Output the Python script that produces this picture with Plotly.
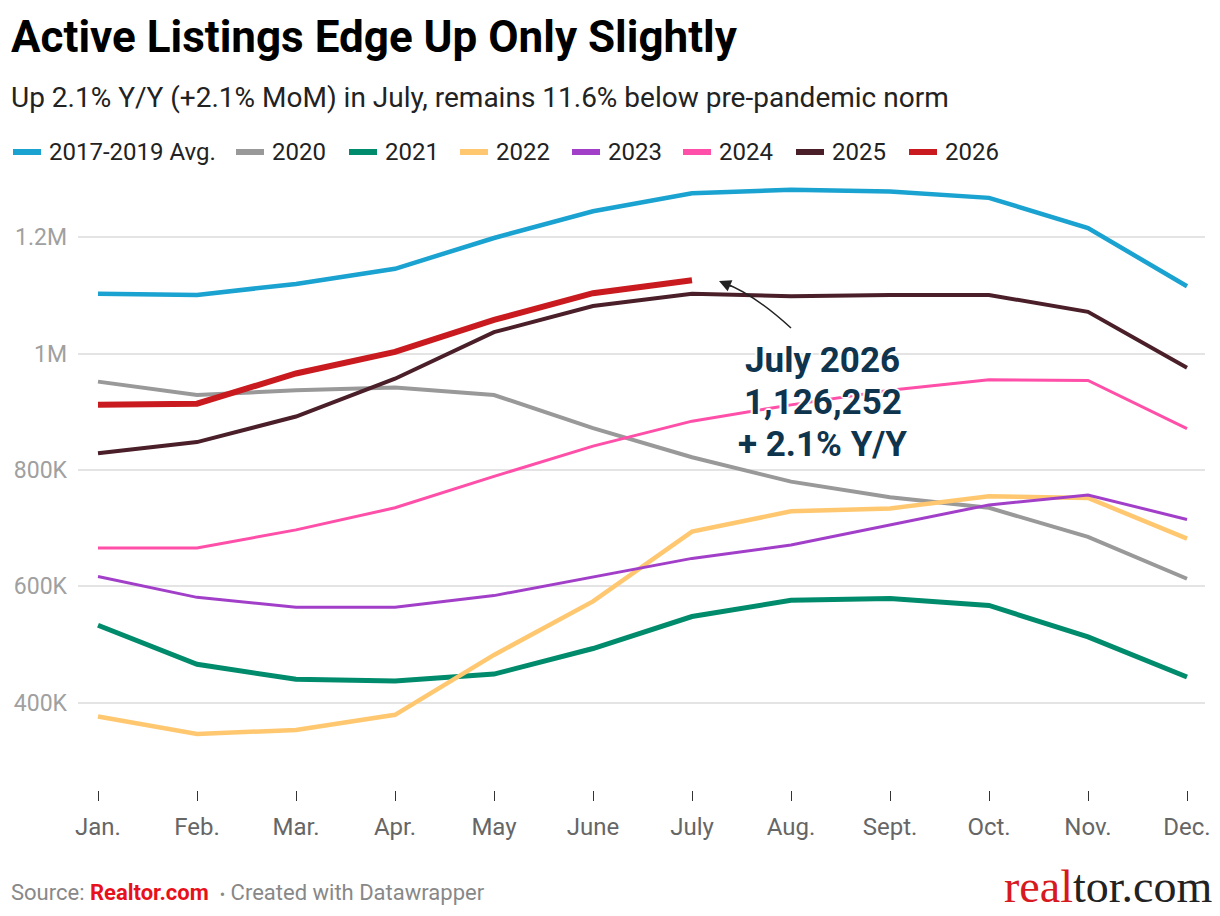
import plotly.graph_objects as go

# month labels on the x axis
months = ["Jan.", "Feb.", "Mar.", "Apr.", "May", "June", "July",
          "Aug.", "Sept.", "Oct.", "Nov.", "Dec."]

# active listings
avg_2017_2019 = [1103000, 1101000, 1120000, 1146000, 1199000, 1245000,
                 1276000, 1282000, 1279000, 1268000, 1216000, 1116000]
y2020 = [952000, 929000, 937000, 942000, 929000, 872000,
         822000, 780000, 753000, 735000, 685000, 613000]
y2021 = [533000, 466000, 440000, 437000, 449000, 493000,
         548000, 576000, 579000, 567000, 513000, 444000]
y2022 = [376000, 346000, 353000, 379000, 482000, 574000,
         694000, 729000, 734000, 755000, 752000, 682000]
y2023 = [617000, 581000, 564000, 564000, 584000, 616000,
         648000, 671000, 705000, 740000, 757000, 715000]
y2024 = [666000, 666000, 697000, 735000, 789000, 841000,
         884000, 912000, 937000, 955000, 954000, 871000]
y2025 = [829000, 848000, 892000, 957000, 1037000, 1082000,
         1103000, 1099000, 1101000, 1101000, 1072000, 976000]
y2026 = [912000, 914000, 966000, 1003000, 1058000, 1104000, 1126252]

ytick_vals = [400000, 600000, 800000, 1000000, 1200000]
ytick_text = ["400K", "600K", "800K", "1M", "1.2M"]

# (name, values, color, width) in drawing order
series = [
    ("2020", y2020, "#999999", 4),
    ("2021", y2021, "#008c6c", 5),
    ("2022", y2022, "#ffc870", 4.5),
    ("2023", y2023, "#a23fc9", 3),
    ("2024", y2024, "#ff4fa8", 3),
    ("2025", y2025, "#4a1f29", 4),
    ("2017-2019 Avg.", avg_2017_2019, "#1aa2d0", 4.5),
    ("2026", y2026, "#c91b1f", 6),
]
legend_order = ["2017-2019 Avg.", "2020", "2021", "2022", "2023", "2024", "2025", "2026"]

FONT = "Roboto"
OFF = 8                      # page margin around the figure
W, H = 1220 - OFF, 916 - OFF
# plot area in screen pixels
SL, SR, ST, SB = 78, 1205, 170, 790
PL, PR, PT, PB = SL - OFF, SR - OFF, ST - OFF, SB - OFF


def px(x):
    return (x - SL) / (SR - SL)


def py(y):
    return (SB - y) / (SB - ST)


fig = go.Figure()
for name, vals, color, width in series:
    fig.add_trace(go.Scatter(
        x=months[:len(vals)], y=vals, name=name, mode="lines",
        line=dict(color=color, width=width),
        showlegend=False,
        hovertemplate="%{x}: %{y:,}<extra>" + name + "</extra>",
    ))

# hand-made legend row
colors = {s[0]: s[2] for s in series}
legend_x = [12, 235, 348, 459, 571, 682, 795, 908]
annotations = []
shapes = []
for name, x0 in zip(legend_order, legend_x):
    shapes.append(dict(type="line", xref="paper", yref="paper",
                       x0=px(x0 + 1), x1=px(x0 + 29), y0=py(152), y1=py(152),
                       line=dict(color=colors[name], width=6)))
    annotations.append(dict(text=name, xref="paper", yref="paper",
                            x=px(x0 + 35), y=py(152), xanchor="left", yanchor="middle",
                            showarrow=False, font=dict(family=FONT, size=24, color="#222")))

# title, subtitle, footer
annotations += [
    dict(text="<b>Active Listings Edge Up Only Slightly</b>", xref="paper", yref="paper",
         x=px(9), y=py(37), xanchor="left", yanchor="middle", showarrow=False,
         font=dict(family=FONT, size=44, color="#000")),
    dict(text="Up 2.1% Y/Y (+2.1% MoM) in July, remains 11.6% below pre-pandemic norm",
         xref="paper", yref="paper", x=px(9), y=py(97), xanchor="left", yanchor="middle",
         showarrow=False, font=dict(family=FONT, size=28, color="#222")),
    dict(text="Source: <b><span style='color:#e8111b'>Realtor.com</span></b>  "
              "<span style='font-size:16px'>•</span> Created with Datawrapper",
         xref="paper", yref="paper", x=px(9), y=py(892), xanchor="left", yanchor="middle",
         showarrow=False, font=dict(family=FONT, size=22, color="#888")),
    dict(text="<span style='color:#d71920'>real</span>tor.com", xref="paper", yref="paper",
         x=px(1214), y=py(886), xanchor="right", yanchor="middle", showarrow=False,
         font=dict(family="Liberation Serif", size=46, color="#222")),
]

# callout for the latest point, one annotation per line
halo = ("2px 0 1px #fff, -2px 0 1px #fff, 0 2px 1px #fff, 0 -2px 1px #fff, "
        "1px 1px 1px #fff, -1px -1px 1px #fff, 1px -1px 1px #fff, -1px 1px 1px #fff")
for line_text, ly in [("July 2026", 360), ("1,126,252", 402), ("+ 2.1% Y/Y", 444)]:
    annotations.append(dict(
        text=f"<b>{line_text}</b>", xref="paper", yref="paper",
        x=px(823), y=py(ly), xanchor="center", yanchor="middle",
        showarrow=False, font=dict(family=FONT, size=35, color="#0f344d", shadow=halo)))


# curved arrow: convert screen pixel points to data coords
def dx(x):
    return (x - 98) / 99


def dy(y):
    return 1000000 + (353.7 - y) / 116.3 * 200000


p0, c, p2 = (791, 328), (754, 294), (724, 283)
shapes.append(dict(
    type="path", xref="x", yref="y",
    path=f"M {dx(p0[0])},{dy(p0[1])} Q {dx(c[0])},{dy(c[1])} {dx(p2[0])},{dy(p2[1])}",
    line=dict(color="#222", width=1.5)))
annotations.append(dict(
    x=dx(719), y=dy(281), xref="x", yref="y", ax=14, ay=6, text="",
    showarrow=True, arrowhead=2, arrowsize=1.6, arrowwidth=1.5, arrowcolor="#222",
    standoff=0))

fig.update_layout(
    width=W, height=H,
    margin=dict(l=PL, r=W - PR, t=PT, b=H - PB),
    plot_bgcolor="white", paper_bgcolor="white",
    font=dict(family=FONT),
    showlegend=False,
    annotations=annotations,
    shapes=shapes,
    xaxis=dict(
        type="category", categoryorder="array", categoryarray=months,
        range=[dx(SL), dx(SR)], automargin=False,
        showgrid=False, zeroline=False, showline=False,
        ticks="outside", ticklen=10, tickwidth=1, tickcolor="#333",
        tickfont=dict(family=FONT, size=24, color="#666"),
        ticklabelstandoff=5,
    ),
    yaxis=dict(
        range=[dy(SB), dy(ST)], automargin=False,
        tickvals=ytick_vals, ticktext=ytick_text,
        showgrid=True, gridcolor="#e4e4e4", gridwidth=1.5,
        zeroline=False, showline=False, ticks="",
        tickfont=dict(family=FONT, size=23, color="#a0a0a0"),
        ticklabelstandoff=10,
    ),
)

fig.write_html("out.html")
